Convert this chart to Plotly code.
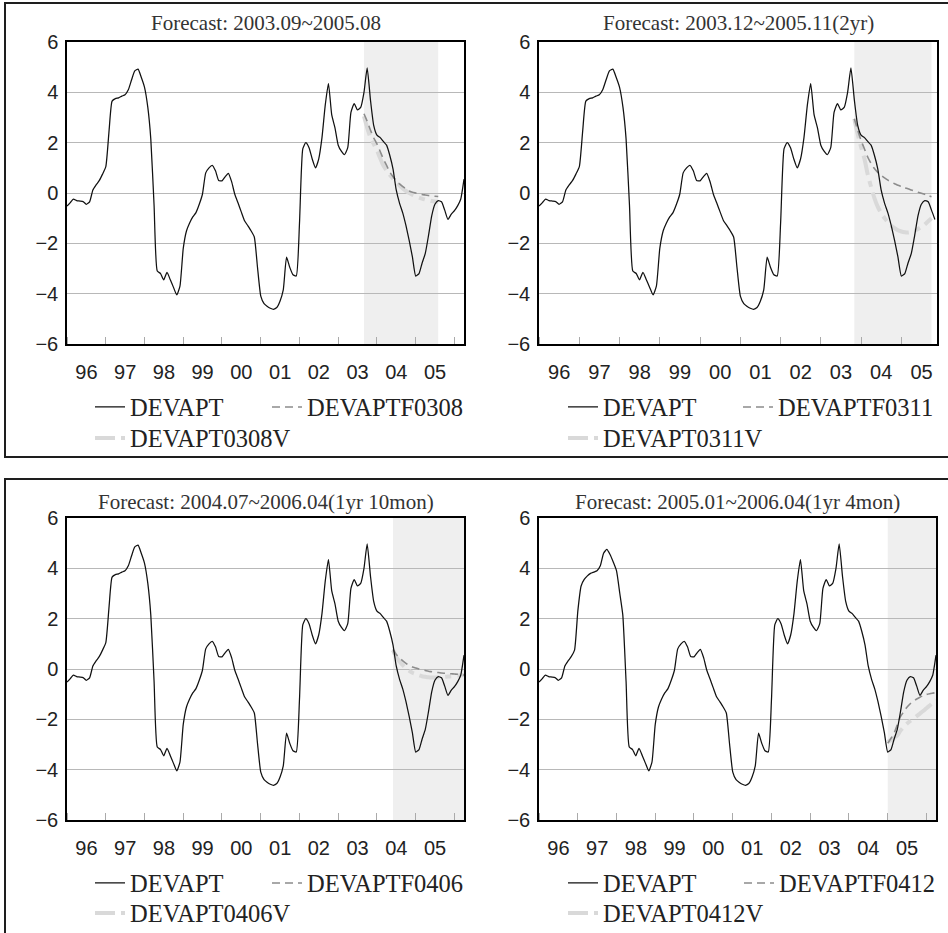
import pandas as pd
import plotly.graph_objects as go

W, H = 948, 933

# ---------------- data ----------------
devapt = [
    -0.52, -0.38, -0.24, -0.30, -0.32, -0.34, -0.45, -0.35, 0.12, 0.32, 0.50, 0.75,   # 1996
    1.05, 2.50, 3.65, 3.75, 3.78, 3.85, 3.90, 4.10, 4.50, 4.85, 4.92, 4.60,           # 1997
    4.20, 3.40, 2.15, -0.50, -3.10, -3.20, -3.45, -3.15, -3.45, -3.75, -4.05, -3.70,  # 1998
    -2.20, -1.50, -1.20, -0.95, -0.78, -0.45, -0.05, 0.80, 1.00, 1.10, 0.88, 0.50,    # 1999
    0.48, 0.65, 0.78, 0.45, -0.05, -0.40, -0.75, -1.10, -1.30, -1.50, -1.75, -2.95,   # 2000
    -4.10, -4.40, -4.50, -4.58, -4.62, -4.55, -4.30, -3.85, -2.55, -2.95, -3.25, -3.30,  # 2001
    -1.20, 1.75, 2.00, 1.80, 1.35, 1.00, 1.35, 2.20, 3.50, 4.35, 3.10, 2.60,          # 2002
    1.90, 1.65, 1.52, 1.80, 3.20, 3.55, 3.30, 3.40, 4.00, 4.97, 3.70, 2.70,           # 2003
    2.30, 2.20, 2.05, 1.90, 1.50, 0.95, 0.12, -0.40, -0.80, -1.30, -1.90, -2.55,      # 2004
    -3.30, -3.20, -2.80, -2.40, -1.70, -0.90, -0.45, -0.30, -0.35, -0.68, -1.05, -0.85,  # 2005
    -0.70, -0.50, -0.25, 0.55,                                                        # 2006
]
devapt_p4_1997 = [2.30, 3.30, 3.55, 3.70, 3.80, 3.85, 3.90, 4.10, 4.60, 4.75, 4.55, 4.25, 3.90, 3.00]
devapt_p4 = devapt[:12] + devapt_p4_1997 + devapt[26:]

f0308 = [3.15, 2.85, 2.50, 2.20, 1.95, 1.65, 1.36, 1.10, 0.83, 0.65, 0.50, 0.36,
         0.25, 0.16, 0.08, 0.03, 0.00, -0.03, -0.06, -0.08, -0.10, -0.12, -0.13, -0.14]
v0308 = [3.05, 2.60, 2.20, 1.95, 1.70, 1.38, 1.10, 0.90, 0.72, 0.57, 0.42, 0.30,
         0.18, 0.08, 0.00, -0.07, -0.13, -0.18, -0.22, -0.26, -0.29, -0.32, -0.34, -0.35]
f0311 = [2.95, 2.50, 2.09, 1.75, 1.43, 1.17, 0.97, 0.82, 0.70, 0.60, 0.51, 0.43,
         0.37, 0.31, 0.26, 0.21, 0.17, 0.12, 0.07, 0.03, -0.01, -0.05, -0.10, -0.15]
v0311 = [2.95, 2.35, 1.83, 1.35, 0.75, 0.24, -0.20, -0.55, -0.80, -1.00, -1.17, -1.30,
         -1.40, -1.48, -1.53, -1.56, -1.57, -1.55, -1.50, -1.43, -1.35, -1.25, -1.12, -1.00]
f0406 = [0.78, 0.58, 0.45, 0.32, 0.22, 0.14, 0.08, 0.04, 0.00, -0.03, -0.06, -0.09,
         -0.11, -0.13, -0.14, -0.16, -0.17, -0.18, -0.19, -0.20, -0.21, -0.23, -0.24]
v0406 = [0.75, 0.48, 0.30, 0.15, 0.03, -0.07, -0.15, -0.20, -0.25, -0.29, -0.31, -0.33,
         -0.34, -0.34, -0.33, -0.32, -0.31, -0.30, -0.29, -0.28, -0.27, -0.25, -0.24]
f0412 = [-2.95, -2.75, -2.56, -2.22, -1.89, -1.70, -1.52, -1.38, -1.27, -1.19, -1.12, -1.06,
         -1.01, -0.98, -0.96, -0.94]
v0412 = [-2.89, -2.82, -2.74, -2.64, -2.45, -2.30, -2.17, -2.06, -1.97, -1.87, -1.77, -1.67,
         -1.56, -1.45, -1.34, -1.23]

titles = ["Forecast: 2003.09~2005.08", "Forecast: 2003.12~2005.11(2yr)",
          "Forecast: 2004.07~2006.04(1yr 10mon)", "Forecast: 2005.01~2006.04(1yr 4mon)"]
f_names = ["DEVAPTF0308", "DEVAPTF0311", "DEVAPTF0406", "DEVAPTF0412"]
v_names = ["DEVAPT0308V", "DEVAPT0311V", "DEVAPT0406V", "DEVAPT0412V"]
f_starts = ["2003-09-01", "2003-11-01", "2004-06-01", "2005-01-01"]
shade_ends = ["2005-08-01", "2005-10-01", "2006-04-01", "2006-04-01"]
actual_ends = [None, 118, None, None]
x_ranges = [["1996-01-01", "2006-04-01"], ["1996-01-01", "2005-11-20"],
            ["1996-01-01", "2006-04-01"], ["1996-01-01", "2006-04-01"]]
y_ticks = [-6, -4, -2, 0, 2, 4, 6]

forecasts = [f0308, f0311, f0406, f0412]
vforecasts = [v0308, v0311, v0406, v0412]
actuals = [devapt, devapt, devapt, devapt_p4]

# ---------------- layout geometry (pixels) ----------------
panels = [  # left, right, top, bottom
    (67, 464, 42, 344),
    (539, 937, 42, 344),
    (67, 464, 518, 820),
    (539, 936, 518, 820),
]
title_y = [23, 23, 502, 502]
leg_rows = [(407, 438), (407, 438), (883, 913), (883, 913)]
leg_text_x = [(130, 307), (603, 778), (130, 307), (603, 779)]
LEG_OFF = 40

def px(x):
    return x / W

def py(y):
    return 1 - y / H

serif = "Liberation Serif, Times New Roman, serif"
sans = "Liberation Sans Narrow, Arial Narrow, Liberation Sans, sans-serif"

fig = go.Figure()
layout = dict(
    width=W, height=H, margin=dict(l=0, r=0, t=0, b=0, autoexpand=False),
    paper_bgcolor="white", plot_bgcolor="white", showlegend=True,
    shapes=[], annotations=[],
)

leg_count = 0
for k in range(4):
    xa = "x" if k == 0 else f"x{k+1}"
    ya = "y" if k == 0 else f"y{k+1}"
    xkey = "xaxis" if k == 0 else f"xaxis{k+1}"
    ykey = "yaxis" if k == 0 else f"yaxis{k+1}"
    l, r, t, b = panels[k]

    act = actuals[k]
    if actual_ends[k] is not None:
        act = act[:actual_ends[k] + 1]
    dates = pd.date_range("1996-01-01", periods=len(act), freq="MS")
    fdates = pd.date_range(f_starts[k], periods=len(forecasts[k]), freq="MS")

    legs = []
    for j in range(3):
        leg_count += 1
        legs.append("legend" if leg_count == 1 else f"legend{leg_count}")

    fig.add_trace(go.Scatter(
        x=fdates, y=vforecasts[k], mode="lines", name=v_names[k],
        line=dict(color="#d9d9d9", width=4, dash="20px,6px,6px,6px", shape="spline", smoothing=0.6),
        xaxis=xa, yaxis=ya, legend=legs[2]))
    fig.add_trace(go.Scatter(
        x=fdates, y=forecasts[k], mode="lines", name=f_names[k],
        line=dict(color="#8c8c8c", width=1.6, dash="8px,5px", shape="spline", smoothing=0.6),
        xaxis=xa, yaxis=ya, legend=legs[1]))
    fig.add_trace(go.Scatter(
        x=dates, y=act, mode="lines", name="DEVAPT",
        line=dict(color="#111111", width=1.25, shape="spline", smoothing=0.5),
        xaxis=xa, yaxis=ya, legend=legs[0]))

    layout[xkey] = dict(
        domain=[px(l), px(r)], anchor=ya, type="date", range=x_ranges[k],
        dtick="M12", tick0="1996-01-01", ticklabelmode="period", tickformat="%y",
        ticks="inside", ticklen=7, tickwidth=1, tickcolor="#aaaaaa",
        showgrid=False, zeroline=False,
        showline=True, mirror=True, linecolor="black", linewidth=1.5,
        tickfont=dict(family=sans, size=20, color="#222222"),
        ticklabelstandoff=9, fixedrange=True,
    )
    layout[ykey] = dict(
        domain=[py(b), py(t)], anchor=xa, range=[-6, 6], tickvals=y_ticks,
        showgrid=True, gridcolor="#b8b8b8", gridwidth=1, zeroline=False,
        showline=True, mirror=True, linecolor="black", linewidth=1.5, ticks="",
        tickfont=dict(family=sans, size=20, color="#222222"),
        ticklabelstandoff=3, fixedrange=True,
    )

    layout["shapes"].append(dict(
        type="rect", xref=xa, yref=f"{ya} domain", x0=f_starts[k], x1=shade_ends[k],
        y0=0, y1=1, fillcolor="#efefef", line=dict(width=0), layer="below"))

    layout["annotations"].append(dict(
        text=titles[k], xref="paper", yref="paper", x=px((l + r) / 2), y=py(title_y[k]),
        xanchor="center", yanchor="middle", showarrow=False,
        font=dict(family=serif, size=21, color="#333333")))

    r1, r2 = leg_rows[k]
    tx1, tx2 = leg_text_x[k]
    pos = [(tx1, r1), (tx2, r1), (tx1, r2)]
    for j in range(3):
        layout[legs[j]] = dict(
            x=px(pos[j][0] - LEG_OFF), y=py(pos[j][1]), xanchor="left", yanchor="middle",
            orientation="h", bgcolor="rgba(0,0,0,0)", borderwidth=0,
            font=dict(family=serif, size=24.5, color="#222222"),
        )

# outer boxes
layout["shapes"].append(dict(type="rect", xref="paper", yref="paper",
                             x0=px(5), x1=1.02, y0=py(457), y1=py(3),
                             line=dict(color="#1e1e1e", width=2), fillcolor="rgba(0,0,0,0)"))
layout["shapes"].append(dict(type="rect", xref="paper", yref="paper",
                             x0=px(5), x1=1.02, y0=-0.02, y1=py(479),
                             line=dict(color="#1e1e1e", width=2), fillcolor="rgba(0,0,0,0)"))

fig.update_layout(**layout)
fig.write_html("out.html", config={"displayModeBar": False},
               post_script="document.body.style.margin='0';document.body.style.overflow='hidden';")
